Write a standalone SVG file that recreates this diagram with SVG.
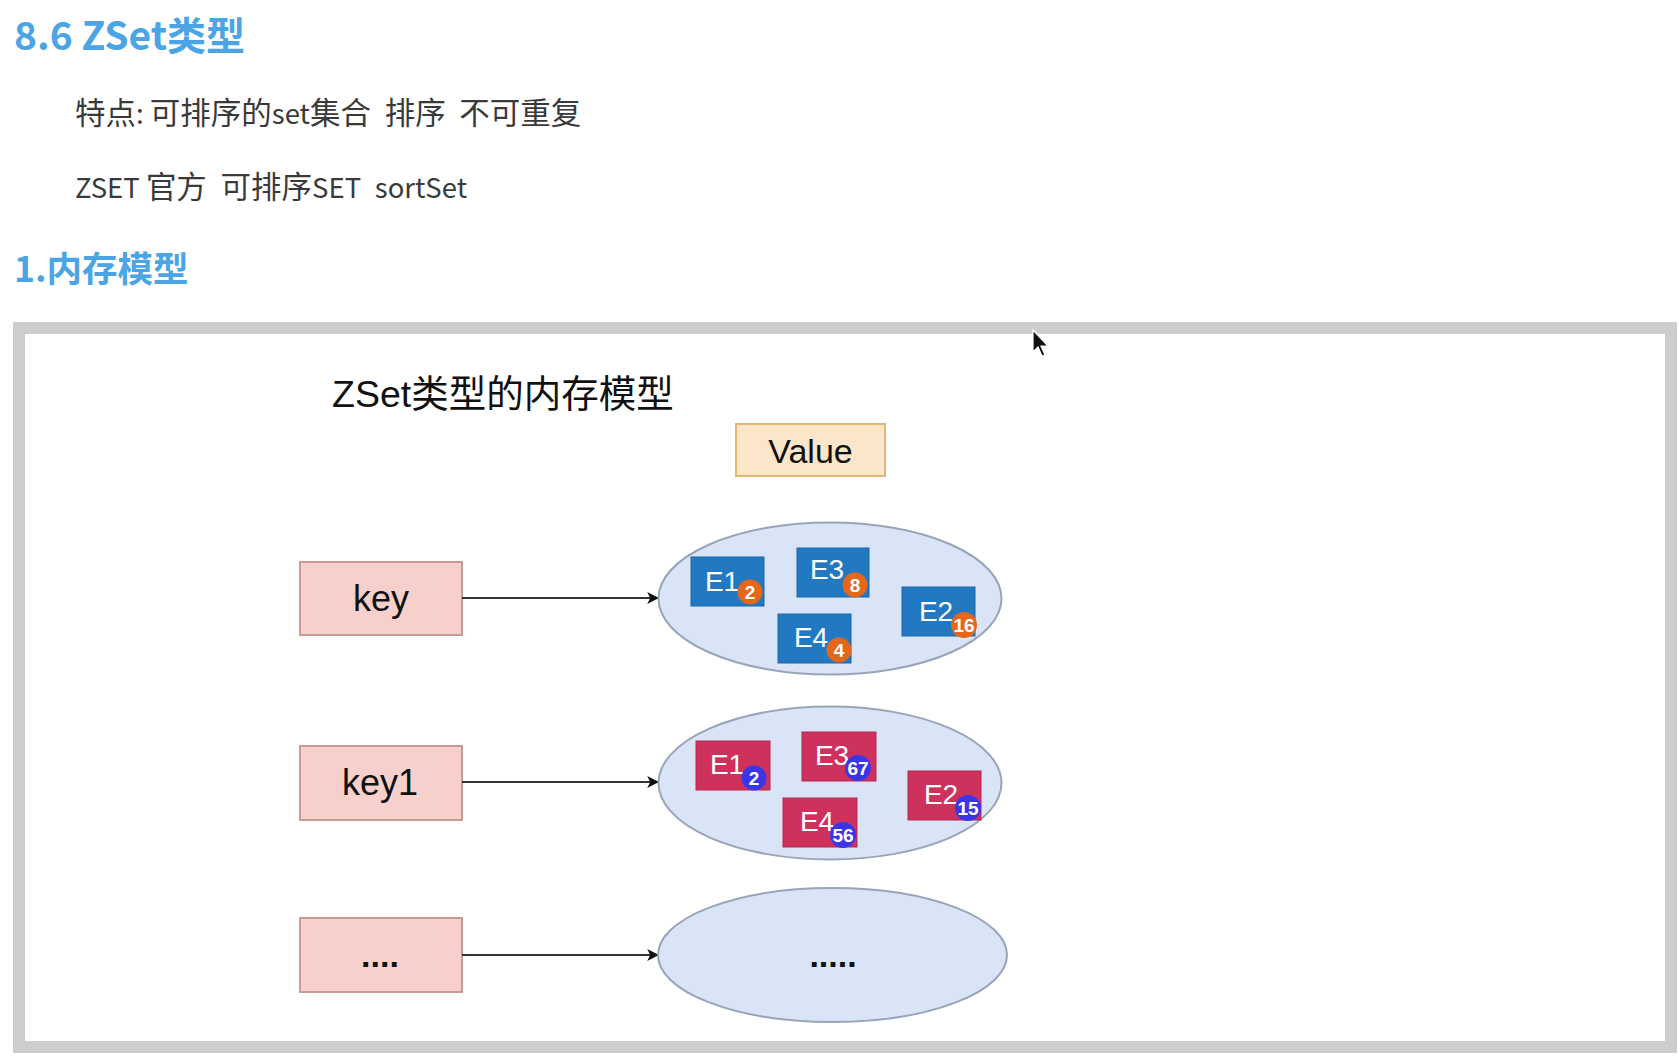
<svg xmlns="http://www.w3.org/2000/svg" width="1678" height="1056" viewBox="0 0 1678 1056">
<defs>
<style>
.h{font-family:"Noto Sans CJK SC","Noto Sans",sans-serif;font-weight:bold;fill:#4ba5e4}
.b{font-family:"Noto Sans CJK SC","Noto Sans",sans-serif;fill:#3a3a3a;font-size:30.5px;white-space:pre}
.l{font-size:27.5px}
.g{font-size:30.5px}
.d{font-family:"Liberation Sans","Noto Sans CJK SC",sans-serif;fill:#111}
.key{fill:#f7d0cb;stroke:#c99b96;stroke-width:2}
.ell{fill:#d9e5f7;stroke:#98a4b8;stroke-width:2}
.eb{fill:#2279c2;stroke:#1c66a8;stroke-width:1}
.er{fill:#cf315d;stroke:#b0284e;stroke-width:1}
.el{font-family:"Liberation Sans",sans-serif;font-size:28px;fill:#fff;text-anchor:middle}
.bo{fill:#e4671c}
.bv{fill:#3b35ea}
.bt{font-family:"Liberation Sans",sans-serif;font-size:19px;font-weight:bold;fill:#fff;text-anchor:middle}
.c{stroke:#333;stroke-width:2;fill:none;marker-end:url(#a)}
</style>
<marker id="a" viewBox="0 0 10 10" refX="9" refY="5" markerWidth="12" markerHeight="12" markerUnits="userSpaceOnUse" orient="auto">
<path d="M0,0 L10,5 L0,10 L2.5,5 Z" fill="#111"/>
</marker>
</defs>
<rect width="1678" height="1056" fill="#fff"/>

<g id="heading">
<text class="h" x="14" y="50" font-size="39">8.6 ZSet类型</text>
<text class="b" x="75" y="124" xml:space="preserve">特点<tspan class="l">: </tspan>可排序的<tspan class="l">set</tspan>集合<tspan class="g">  </tspan>排序<tspan class="g">  </tspan>不可重复</text>
<text class="b" x="75" y="198" xml:space="preserve"><tspan class="l">ZSET </tspan>官方<tspan class="g">  </tspan>可排序<tspan class="l">SET</tspan><tspan class="g">  </tspan><tspan class="l">sortSet</tspan></text>
<text class="h" x="14" y="282" font-size="35.5">1.内存模型</text>
</g>

<g id="frame">
<rect x="19" y="328" width="1652" height="719" fill="#fff" stroke="#cdcdcf" stroke-width="12"/>
</g>

<g id="diagram-title">
<text class="d" x="332" y="407" font-size="37.5">ZSet类型的内存模型</text>
</g>

<g id="value-label">
<rect x="736" y="424" width="149" height="52" fill="#fbe6c9" stroke="#e2b877" stroke-width="2"/>
<text class="d" x="810.5" y="463" font-size="34" text-anchor="middle">Value</text>
</g>

<g id="key">
<rect class="key" x="300" y="562" width="162" height="73"/>
<text class="d" x="381" y="611" font-size="36" text-anchor="middle">key</text>
</g>
<g id="key1">
<rect class="key" x="300" y="746" width="162" height="74"/>
<text class="d" x="380" y="795" font-size="36" text-anchor="middle">key1</text>
</g>
<g id="key-more">
<rect class="key" x="300" y="918" width="162" height="74"/>
<text class="d" x="380" y="967" font-size="34" font-weight="bold" text-anchor="middle">....</text>
</g>

<g id="connectors">
<line class="c" x1="462" y1="598" x2="658" y2="598"/>
<line class="c" x1="462" y1="782" x2="658" y2="782"/>
<line class="c" x1="462" y1="955" x2="658" y2="955"/>
</g>

<g id="zset1">
<ellipse class="ell" cx="830" cy="598.5" rx="171.5" ry="76"/>
<rect class="eb" x="691" y="557" width="73" height="49"/>
<text class="el" x="722" y="591">E1</text>
<circle class="bo" cx="750" cy="592" r="12.5"/>
<text class="bt" x="750" y="599">2</text>
<rect class="eb" x="797" y="548" width="72" height="49"/>
<text class="el" x="827" y="579">E3</text>
<circle class="bo" cx="855" cy="585" r="12.5"/>
<text class="bt" x="855" y="592">8</text>
<rect class="eb" x="902" y="587" width="73" height="49"/>
<text class="el" x="936" y="621">E2</text>
<circle class="bo" cx="964" cy="625" r="13"/>
<text class="bt" x="964" y="632">16</text>
<rect class="eb" x="778" y="614" width="73" height="49"/>
<text class="el" x="811" y="647">E4</text>
<circle class="bo" cx="839" cy="650" r="12.5"/>
<text class="bt" x="839" y="657">4</text>
</g>

<g id="zset2">
<ellipse class="ell" cx="830" cy="783" rx="171.5" ry="76.5"/>
<rect class="er" x="696" y="741" width="74" height="49"/>
<text class="el" x="727" y="774">E1</text>
<circle class="bv" cx="754" cy="778" r="12.5"/>
<text class="bt" x="754" y="785">2</text>
<rect class="er" x="802" y="732" width="74" height="49"/>
<text class="el" x="832" y="765">E3</text>
<circle class="bv" cx="858" cy="768" r="13"/>
<text class="bt" x="858" y="775">67</text>
<rect class="er" x="908" y="771" width="73" height="49"/>
<text class="el" x="941" y="804">E2</text>
<circle class="bv" cx="968" cy="808" r="13"/>
<text class="bt" x="968" y="815">15</text>
<rect class="er" x="783" y="798" width="74" height="49"/>
<text class="el" x="817" y="831">E4</text>
<circle class="bv" cx="843" cy="835" r="13"/>
<text class="bt" x="843" y="842">56</text>
</g>

<g id="zset-more">
<ellipse class="ell" cx="832.5" cy="955" rx="174.5" ry="67"/>
<text class="d" x="833" y="967" font-size="34" font-weight="bold" text-anchor="middle">.....</text>
</g>

<g id="cursor">
<path d="M1033,330 L1033,352 L1038,347 L1042,356 L1045,355 L1041,346 L1048,346 Z" fill="#111" stroke="#fff" stroke-width="1.2"/>
</g>
</svg>
